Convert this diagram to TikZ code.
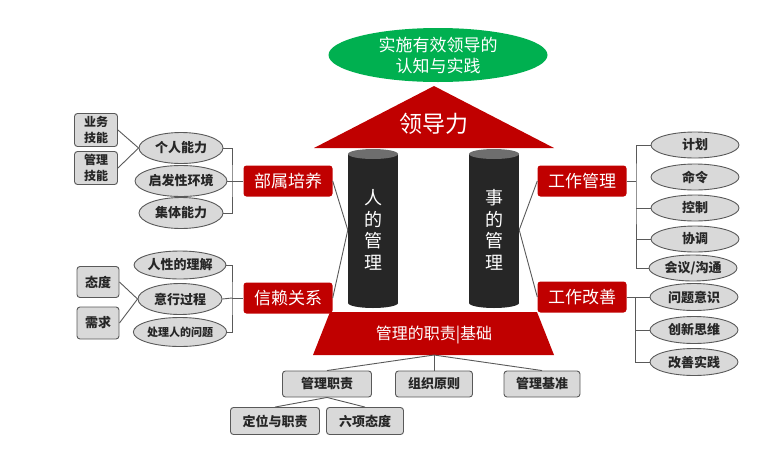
\documentclass[tikz,border=0pt]{standalone}
\usepackage{fontspec}
\setmainfont{Noto Sans CJK SC}
\usepackage{tikz}
\usetikzlibrary{shapes.geometric,calc}
\definecolor{hred}{HTML}{C00000}
\definecolor{hgreen}{HTML}{00B050}
\definecolor{hgrey}{HTML}{D9D9D9}
\definecolor{hline}{HTML}{595959}
\definecolor{htext}{HTML}{262626}
\definecolor{hcyl}{HTML}{262626}
\definecolor{hcyltop}{HTML}{6E6E6E}

\begin{document}
\begin{tikzpicture}[x=1pt,y=-1pt,
    redbox/.style={fill=hred,rounded corners=3pt,text=white,minimum width=89,minimum height=31,inner sep=0pt,font=\fontsize{17}{20}\selectfont},
    greybox/.style={draw=hline,fill=hgrey,rounded corners=3pt,text=htext,line width=0.9pt,inner sep=0pt,font=\fontsize{13}{16}\selectfont\bfseries},
    greyoval/.style={ellipse,draw=hline,fill=hgrey,text=htext,line width=0.9pt,inner sep=0pt,font=\fontsize{13}{16}\selectfont\bfseries},
    link/.style={draw=hline,line width=0.9pt},
    cyltext/.style={text=white,align=center,inner sep=0pt,minimum width=50,minimum height=158,font=\fontsize{18}{21.5}\selectfont}]
  \useasboundingbox (0,0) rectangle (782,472);
  % top
  \node[ellipse,fill=hgreen,text=white,minimum width=219,minimum height=54,inner sep=0pt,align=center,font=\fontsize{17}{21}\selectfont] (goal) at (438,55) {实施有效领导的\\认知与实践};
  \fill[hred] (314,148) -- (434,86) -- (554,148) -- cycle;
  \node[text=white,inner sep=0pt,font=\fontsize{23}{26}\selectfont] (lead) at (434,124) {领导力};
  % pillars
  \fill[hcyl] (348,154) rectangle (398,303);
  \fill[hcyl] (373,303) ellipse (25 and 5);
  \fill[hcyltop] (373,154) ellipse (25 and 5);
  \fill[hcyl] (469,154) rectangle (519,303);
  \fill[hcyl] (494,303) ellipse (25 and 5);
  \fill[hcyltop] (494,154) ellipse (25 and 5);
  \node[cyltext] (people) at (373,230) {人\\的\\管\\理};
  \node[cyltext] (things) at (494,230) {事\\的\\管\\理};
  % base
  \fill[hred] (330,312) -- (537,312) -- (554,355) -- (313,355) -- cycle;
  \node[text=white,inner sep=0pt,font=\fontsize{16}{19}\selectfont] (base) at (434,335) {管理的职责|基础};
  \coordinate (basebot) at (434,355);
  \node[greybox,minimum width=89,minimum height=26] (duty) at (327,384) {管理职责};
  \node[greybox,minimum width=77,minimum height=26] (org) at (434,384) {组织原则};
  \node[greybox,minimum width=76,minimum height=26] (norm) at (542,384) {管理基准};
  \node[greybox,minimum width=89,minimum height=27] (role) at (275,421) {定位与职责};
  \node[greybox,minimum width=77,minimum height=27] (six) at (365,421) {六项态度};
  \draw[link] (basebot) -- (duty.north);
  \draw[link] (basebot) -- (org.north);
  \draw[link] (basebot) -- (norm.north);
  \draw[link] (duty.south) -- (role.north);
  \draw[link] (duty.south) -- (six.north);
  % left side
  \node[redbox] (train) at (288,181) {部属培养};
  \node[redbox] (trust) at (288,298) {信赖关系};
  \draw[link] (train.east) -- (people.west);
  \draw[link] (trust.east) -- (people.west);
  \node[greyoval,minimum width=84,minimum height=31] (indiv) at (181,148) {个人能力};
  \node[greyoval,minimum width=84,minimum height=31] (env) at (181,181) {启发性环境};
  \node[greyoval,minimum width=84,minimum height=31] (group) at (181,213) {集体能力};
  \coordinate (lbr1) at (232,181);
  \draw[link] (train.west) -- (lbr1);
  \draw[link] (indiv.east) -| (lbr1) |- (group.east);
  \draw[link] (env.east) -- (lbr1);
  \node[greybox,minimum width=43,minimum height=33,align=center,font=\fontsize{12}{16}\selectfont\bfseries] (biz) at (96,130) {业务\\技能};
  \node[greybox,minimum width=43,minimum height=33,align=center,font=\fontsize{12}{16}\selectfont\bfseries] (mgt) at (96,168) {管理\\技能};
  \draw[link] (biz.east) -- (indiv.west);
  \draw[link] (mgt.east) -- (indiv.west);
  \node[greyoval,minimum width=84,minimum height=28] (nature) at (180,265) {人性的理解};
  \node[greyoval,minimum width=84,minimum height=31] (will) at (180,299) {意行过程};
  \node[greyoval,minimum width=84,minimum height=29,font=\fontsize{11}{14}\selectfont\bfseries] (issue) at (180,332) {处理人的问题};
  \coordinate (lbr2) at (232,298);
  \draw[link] (trust.west) -- (lbr2);
  \draw[link] (nature.east) -| (lbr2) |- (issue.east);
  \draw[link] (will.east) -- (lbr2);
  \node[greybox,minimum width=42,minimum height=31] (attit) at (98,282) {态度};
  \node[greybox,minimum width=42,minimum height=32] (need) at (98,323) {需求};
  \draw[link] (attit.east) -- (will.west);
  \draw[link] (need.east) -- (will.west);
  % right side
  \node[redbox] (work) at (582,181) {工作管理};
  \node[redbox] (improve) at (582,297) {工作改善};
  \draw[link] (things.east) -- (work.west);
  \draw[link] (things.east) -- (improve.west);
  \node[greyoval,minimum width=88,minimum height=26] (plan) at (695,145) {计划};
  \node[greyoval,minimum width=88,minimum height=26] (order) at (695,177) {命令};
  \node[greyoval,minimum width=88,minimum height=26] (ctrl) at (695,208) {控制};
  \node[greyoval,minimum width=88,minimum height=26] (coord) at (695,239) {协调};
  \node[greyoval,minimum width=88,minimum height=26] (meet) at (693,268) {会议/沟通};
  \coordinate (rbr1) at (636,181);
  \draw[link] (work.east) -- (rbr1);
  \draw[link] (plan.west) -| (rbr1) |- (meet.west);
  \draw[link] (ctrl.west) -- (ctrl.west -| rbr1);
  \draw[link] (coord.west) -- (coord.west -| rbr1);
  \node[greyoval,minimum width=88,minimum height=27] (aware) at (694,297) {问题意识};
  \node[greyoval,minimum width=88,minimum height=27] (innov) at (694,330) {创新思维};
  \node[greyoval,minimum width=88,minimum height=27] (practice) at (694,362) {改善实践};
  \coordinate (rbr2) at (635,297);
  \draw[link] (improve.east) -- (aware.west);
  \draw[link] (rbr2) |- (practice.west);
  \draw[link] (innov.west) -- (innov.west -| rbr2);
\end{tikzpicture}
\end{document}
